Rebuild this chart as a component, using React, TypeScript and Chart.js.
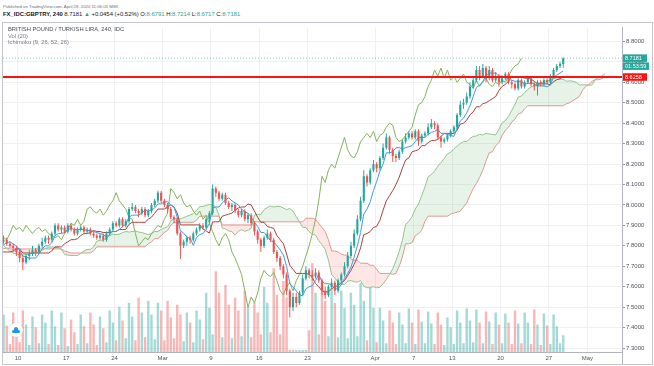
import React, { useEffect, useRef } from 'react';
import { Chart, registerables } from 'chart.js';

Chart.register(...registerables);

// Trading-day index: Feb 10 = 0. The first 42 candles (Jan 20 - Feb 6) lie left of the visible window
// and only feed the Ichimoku lines that are visible at the left edge.
const firstDay = -15;

const opens = [
  7.71, 7.72, 7.70, 7.71, 7.73, 7.75, 7.74, 7.72, 7.74, 7.76, 7.75, 7.76,
  7.77, 7.78, 7.80, 7.79, 7.81, 7.83, 7.82, 7.80, 7.84, 7.86, 7.85, 7.83, 7.84, 7.82, 7.79,
  7.77, 7.75, 7.72, 7.70, 7.71, 7.74, 7.73, 7.76, 7.78, 7.77, 7.79, 7.81, 7.80, 7.82, 7.83,
  7.81, 7.80, 7.79, 7.77, 7.74, 7.72, 7.75, 7.76, 7.78, 7.77, 7.80, 7.82, 7.84, 7.83, 7.86,
  7.90, 7.88, 7.89, 7.87, 7.90, 7.88, 7.86, 7.88, 7.89, 7.87, 7.88, 7.86, 7.85, 7.84, 7.85,
  7.83, 7.86, 7.88, 7.91, 7.90, 7.93, 7.90, 7.92, 7.98, 7.99, 7.97, 7.96, 7.98, 7.95, 7.97,
  8.00, 8.02, 8.06, 8.02, 8.00, 7.98, 7.94, 7.93, 7.86, 7.80, 7.82, 7.84, 7.83, 7.86, 7.88,
  7.90, 7.89, 7.93, 7.96, 8.08, 8.06, 8.03, 8.05, 8.01, 7.99, 8.00, 7.97, 7.95, 7.97, 7.93,
  7.95, 7.91, 7.87, 7.83, 7.80, 7.84, 7.86, 7.83, 7.77, 7.74, 7.70, 7.66, 7.58, 7.50, 7.55,
  7.52, 7.57, 7.64, 7.68, 7.66, 7.65, 7.67, 7.63, 7.58, 7.56, 7.60, 7.62, 7.58, 7.63, 7.66,
  7.70, 7.75, 7.80, 7.86, 7.93, 8.02, 8.14, 8.11, 8.17, 8.20, 8.18, 8.23, 8.28, 8.33, 8.27,
  8.24, 8.23, 8.26, 8.31, 8.33, 8.35, 8.33, 8.36, 8.31, 8.34, 8.35, 8.38, 8.40, 8.39, 8.33,
  8.31, 8.32, 8.34, 8.36, 8.38, 8.44, 8.49, 8.50, 8.53, 8.58, 8.61, 8.66, 8.63, 8.67, 8.62,
  8.66, 8.61, 8.63, 8.60, 8.62, 8.64, 8.60, 8.59, 8.57, 8.61, 8.58, 8.60, 8.62, 8.59, 8.58,
  8.60, 8.59, 8.61, 8.60, 8.63, 8.66, 8.68, 8.69,
];

const highs = [
  7.73, 7.73, 7.72, 7.74, 7.76, 7.76, 7.75, 7.75, 7.77, 7.77, 7.77, 7.78,
  7.79, 7.81, 7.81, 7.82, 7.85, 7.84, 7.83, 7.85, 7.88, 7.87, 7.86, 7.85, 7.85, 7.83, 7.80,
  7.78, 7.76, 7.73, 7.72, 7.75, 7.75, 7.77, 7.79, 7.79, 7.80, 7.82, 7.82, 7.83, 7.85, 7.84,
  7.82, 7.81, 7.80, 7.78, 7.75, 7.76, 7.78, 7.80, 7.79, 7.81, 7.84, 7.85, 7.85, 7.87, 7.91,
  7.91, 7.90, 7.90, 7.91, 7.91, 7.89, 7.89, 7.90, 7.90, 7.89, 7.89, 7.87, 7.86, 7.86, 7.86,
  7.87, 7.89, 7.92, 7.92, 7.94, 7.94, 7.93, 7.99, 8.01, 8.00, 7.98, 7.99, 7.99, 7.98, 8.01,
  8.03, 8.07, 8.07, 8.03, 8.01, 7.99, 7.95, 7.94, 7.87, 7.83, 7.85, 7.85, 7.87, 7.89, 7.91,
  7.91, 7.94, 7.97, 8.10, 8.09, 8.07, 8.06, 8.06, 8.02, 8.01, 8.01, 7.98, 7.98, 7.98, 7.96,
  7.96, 7.92, 7.88, 7.84, 7.85, 7.88, 7.87, 7.84, 7.78, 7.75, 7.71, 7.67, 7.59, 7.57, 7.57,
  7.58, 7.66, 7.70, 7.69, 7.68, 7.69, 7.68, 7.64, 7.60, 7.61, 7.64, 7.63, 7.64, 7.67, 7.72,
  7.77, 7.82, 7.88, 7.95, 8.04, 8.17, 8.15, 8.18, 8.22, 8.21, 8.24, 8.30, 8.35, 8.34, 8.28,
  8.25, 8.27, 8.32, 8.35, 8.36, 8.36, 8.37, 8.37, 8.35, 8.36, 8.40, 8.42, 8.41, 8.40, 8.34,
  8.33, 8.35, 8.37, 8.39, 8.45, 8.51, 8.52, 8.55, 8.60, 8.63, 8.68, 8.68, 8.69, 8.68, 8.68,
  8.67, 8.65, 8.64, 8.63, 8.65, 8.65, 8.61, 8.60, 8.62, 8.62, 8.61, 8.63, 8.63, 8.60, 8.61,
  8.61, 8.62, 8.62, 8.64, 8.67, 8.69, 8.70, 8.7214,
];

const lows = [
  7.70, 7.69, 7.69, 7.70, 7.72, 7.73, 7.71, 7.71, 7.73, 7.74, 7.74, 7.75,
  7.76, 7.77, 7.78, 7.78, 7.80, 7.81, 7.79, 7.79, 7.83, 7.84, 7.82, 7.82, 7.81, 7.78, 7.76,
  7.74, 7.71, 7.69, 7.69, 7.70, 7.72, 7.72, 7.75, 7.76, 7.76, 7.78, 7.79, 7.79, 7.81, 7.80,
  7.79, 7.77, 7.75, 7.72, 7.68, 7.71, 7.73, 7.75, 7.75, 7.76, 7.79, 7.81, 7.81, 7.82, 7.85,
  7.87, 7.86, 7.86, 7.86, 7.87, 7.85, 7.85, 7.87, 7.86, 7.86, 7.85, 7.84, 7.83, 7.83, 7.82,
  7.82, 7.85, 7.87, 7.89, 7.89, 7.89, 7.89, 7.91, 7.97, 7.96, 7.94, 7.95, 7.94, 7.94, 7.96,
  7.99, 8.01, 8.01, 7.99, 7.96, 7.93, 7.91, 7.85, 7.735, 7.79, 7.80, 7.81, 7.82, 7.85, 7.87,
  7.88, 7.88, 7.92, 7.95, 8.04, 8.02, 8.02, 8.00, 7.98, 7.97, 7.96, 7.94, 7.94, 7.92, 7.91,
  7.90, 7.85, 7.81, 7.77, 7.79, 7.83, 7.82, 7.76, 7.72, 7.68, 7.64, 7.56, 7.45, 7.48, 7.50,
  7.51, 7.56, 7.63, 7.64, 7.63, 7.64, 7.62, 7.56, 7.54, 7.55, 7.59, 7.56, 7.57, 7.61, 7.65,
  7.69, 7.74, 7.79, 7.85, 7.92, 8.01, 8.09, 8.10, 8.16, 8.16, 8.17, 8.22, 8.27, 8.25, 8.21,
  8.21, 8.22, 8.25, 8.30, 8.32, 8.32, 8.32, 8.29, 8.30, 8.33, 8.34, 8.37, 8.37, 8.32, 8.28,
  8.30, 8.31, 8.33, 8.35, 8.37, 8.43, 8.47, 8.49, 8.52, 8.57, 8.60, 8.61, 8.62, 8.60, 8.61,
  8.60, 8.60, 8.58, 8.59, 8.61, 8.59, 8.57, 8.56, 8.56, 8.57, 8.57, 8.59, 8.58, 8.56, 8.535,
  8.58, 8.58, 8.59, 8.59, 8.62, 8.65, 8.67, 8.6717,
];

const closes = [
  7.72, 7.70, 7.71, 7.73, 7.75, 7.74, 7.72, 7.74, 7.76, 7.75, 7.76, 7.77,
  7.78, 7.80, 7.79, 7.81, 7.83, 7.82, 7.80, 7.84, 7.86, 7.85, 7.83, 7.84, 7.82, 7.79, 7.77,
  7.75, 7.72, 7.70, 7.71, 7.74, 7.73, 7.76, 7.78, 7.77, 7.79, 7.81, 7.80, 7.82, 7.83, 7.81,
  7.80, 7.79, 7.77, 7.74, 7.72, 7.75, 7.76, 7.78, 7.77, 7.80, 7.82, 7.84, 7.83, 7.86, 7.90,
  7.88, 7.89, 7.87, 7.90, 7.88, 7.86, 7.88, 7.89, 7.87, 7.88, 7.86, 7.85, 7.84, 7.85, 7.83,
  7.86, 7.88, 7.91, 7.90, 7.93, 7.90, 7.92, 7.98, 7.99, 7.97, 7.96, 7.98, 7.95, 7.97, 8.00,
  8.02, 8.06, 8.02, 8.00, 7.98, 7.94, 7.93, 7.86, 7.80, 7.82, 7.84, 7.83, 7.86, 7.88, 7.90,
  7.89, 7.93, 7.96, 8.08, 8.06, 8.03, 8.05, 8.01, 7.99, 8.00, 7.97, 7.95, 7.97, 7.93, 7.95,
  7.91, 7.87, 7.83, 7.80, 7.84, 7.86, 7.83, 7.77, 7.74, 7.70, 7.66, 7.58, 7.50, 7.55, 7.52,
  7.57, 7.64, 7.68, 7.66, 7.65, 7.67, 7.63, 7.58, 7.56, 7.60, 7.62, 7.58, 7.63, 7.66, 7.70,
  7.75, 7.80, 7.86, 7.93, 8.02, 8.14, 8.11, 8.17, 8.20, 8.18, 8.23, 8.28, 8.33, 8.27, 8.24,
  8.23, 8.26, 8.31, 8.33, 8.35, 8.33, 8.36, 8.31, 8.34, 8.35, 8.38, 8.40, 8.39, 8.33, 8.31,
  8.32, 8.34, 8.36, 8.38, 8.44, 8.49, 8.50, 8.53, 8.58, 8.61, 8.66, 8.63, 8.67, 8.62, 8.66,
  8.61, 8.63, 8.60, 8.62, 8.64, 8.60, 8.59, 8.57, 8.61, 8.58, 8.60, 8.62, 8.59, 8.58, 8.60,
  8.59, 8.61, 8.60, 8.63, 8.66, 8.68, 8.69, 8.7181,
];

const volumes = [
  8, 37, 25, 9, 40, 26, 7, 35, 24, 8, 38, 27,
  8, 36, 24, 7, 38, 26, 9, 40, 27, 6, 35, 22, 8, 37, 25,
  10, 42, 28, 7, 36, 24, 8, 39, 26, 9, 40, 25, 8, 38, 27,
  8, 40, 22, 10, 42, 28, 7, 36, 25, 9, 38, 30, 8, 42, 26,
  7, 40, 24, 6, 33, 20, 8, 38, 26, 9, 40, 28, 7, 36, 24,
  10, 42, 30, 12, 46, 32, 14, 50, 36, 12, 55, 40, 15, 52, 38,
  13, 50, 42, 12, 52, 35, 14, 48, 38, 11, 40, 30, 10, 42, 33,
  13, 60, 45, 18, 82, 60, 15, 68, 48, 14, 55, 42, 16, 62, 46,
  15, 50, 40, 18, 66, 50, 20, 85, 58, 18, 72, 55, 2, 2, 2,
  2, 2, 2, 22, 90, 60, 18, 72, 52, 16, 65, 50, 15, 62, 45,
  14, 60, 48, 16, 70, 52, 12, 65, 45, 10, 45, 32, 9, 42, 30,
  8, 40, 28, 9, 44, 30, 8, 43, 31, 9, 41, 29, 8, 40, 28,
  7, 35, 25, 8, 42, 30, 9, 44, 32, 10, 43, 30, 9, 41, 31,
  8, 40, 28, 9, 39, 30, 8, 42, 29, 9, 40, 30, 8, 43, 28,
  7, 39, 27, 8, 38, 26, 9, 17,
];

const priceTicks = [7.3, 7.4, 7.5, 7.6, 7.7, 7.8, 7.9, 8.0, 8.1, 8.2, 8.3, 8.4, 8.5, 8.6, 8.7, 8.8];
const dayTicks = [0, 5, 10, 15, 20, 25, 30, 37, 41, 45, 50, 55, 59];
const dayLabels = ['10', '17', '24', 'Mar', '9', '16', '23', 'Apr', '7', '13', '20', '27', 'May'];

const ichimokuSettings = [9, 26, 52, 26]; // in 4h bars
const barsPerCandle = 2;

const lastPrice = 8.7181;
const levelPrice = 8.6258;
const countdown = '01:53:59';

const UP = '#26a69a';
const DOWN = '#ef5350';
const FONT = "'Liberation Sans', Arial, sans-serif";

const xMin = -1.554;
const xMax = 62.59;
const yMin = 7.2807;
const yMax = 8.8675;

export default function App() {
  const ref = useRef<HTMLCanvasElement>(null);

  useEffect(() => {
    document.body.style.margin = '0';
    const N = closes.length;
    const xOf = (j: number) => firstDay + Math.floor(j / 3) + ((j % 3) * 2 + 1) / 6;
    const [pT, pK, pB, shift] = ichimokuSettings.map((p) => Math.round(p / barsPerCandle));
    const midRange = (j: number, p: number): number | null => {
      if (j - p + 1 < 0) return null;
      let hi = -Infinity;
      let lo = Infinity;
      for (let k = j - p + 1; k <= j; k++) {
        hi = Math.max(hi, highs[k]);
        lo = Math.min(lo, lows[k]);
      }
      return (hi + lo) / 2;
    };

    const tenkan: { x: number; y: number }[] = [];
    const kijun: { x: number; y: number }[] = [];
    const spanA: { x: number; y: number }[] = [];
    const spanB: { x: number; y: number }[] = [];
    const chikou: { x: number; y: number }[] = [];
    for (let j = 0; j < N; j++) {
      const t = midRange(j, pT);
      const k = midRange(j, pK);
      const b = midRange(j, pB);
      if (t !== null) tenkan.push({ x: xOf(j), y: t });
      if (k !== null) kijun.push({ x: xOf(j), y: k });
      if (t !== null && k !== null && b !== null) {
        spanA.push({ x: xOf(j + shift), y: (t + k) / 2 });
        spanB.push({ x: xOf(j + shift), y: b });
      }
      chikou.push({ x: xOf(j - shift), y: closes[j] });
    }

    const isUp = (j: number) => closes[j] >= opens[j];
    const candleColors = closes.map((_, j) => (isUp(j) ? UP : DOWN));
    const volColors = closes.map((_, j) => (isUp(j) ? 'rgba(38,166,154,0.42)' : 'rgba(239,83,80,0.42)'));

    const lineDs = (data: any[], color: string, order: number, extra: any = {}) => ({
      type: 'line' as const,
      data,
      borderColor: color,
      borderWidth: 1,
      pointRadius: 0,
      tension: 0,
      fill: false,
      order,
      clip: 0,
      ...extra,
    });

    const priceBoxes = {
      id: 'priceBoxes',
      afterDraw(chart: any) {
        const { ctx, chartArea, scales } = chart;
        const ys = scales.y;
        ctx.save();
        ctx.strokeStyle = '#b2b5be';
        ctx.lineWidth = 1;
        ctx.beginPath();
        ctx.moveTo(chartArea.right + 0.5, chartArea.bottom);
        ctx.lineTo(chartArea.right + 0.5, chart.height);
        ctx.stroke();
        const box = (cy: number, text: string, bg: string, w: number) => {
          const h = 7.5;
          ctx.fillStyle = bg;
          ctx.fillRect(chartArea.right + 1, cy - h / 2, w, h);
          ctx.fillStyle = '#ffffff';
          ctx.font = `5.5px ${FONT}`;
          ctx.textBaseline = 'middle';
          ctx.textAlign = 'left';
          ctx.fillText(text, chartArea.right + 3, cy + 0.3);
        };
        const yl = ys.getPixelForValue(lastPrice);
        box(yl, lastPrice.toFixed(4), UP, 24);
        box(yl + 8, countdown, UP, 26);
        box(ys.getPixelForValue(levelPrice), levelPrice.toFixed(4), '#ff1111', 24);
        ctx.restore();
      },
    };

    const chart = new Chart(ref.current as HTMLCanvasElement, {
      type: 'bar',
      data: {
        datasets: [
          {
            type: 'bar',
            yAxisID: 'yVol',
            data: volumes.map((v, j) => ({ x: xOf(j), y: v })),
            backgroundColor: volColors,
            borderWidth: 0,
            grouped: false,
            categoryPercentage: 1,
            barPercentage: 0.75,
            order: 20,
            clip: 0,
          } as any,
          lineDs(spanB, '#e39a94', 15),
          lineDs(spanA, '#93c48f', 14, {
            fill: { target: 1, above: 'rgba(67,160,71,0.13)', below: 'rgba(244,67,54,0.13)' },
          }),
          lineDs(chikou, '#86b35a', 10),
          lineDs(kijun, '#a8423d', 9),
          lineDs(tenkan, '#3d9be9', 8),
          {
            type: 'bar',
            data: closes.map((_, j) => ({ x: xOf(j), y: [lows[j], highs[j]] })),
            backgroundColor: candleColors,
            borderWidth: 0,
            grouped: false,
            categoryPercentage: 1,
            barPercentage: 0.3,
            order: 5,
            clip: 0,
          } as any,
          {
            type: 'bar',
            data: closes.map((c, j) => ({ x: xOf(j), y: [opens[j], c] })),
            backgroundColor: candleColors,
            borderWidth: 0,
            grouped: false,
            categoryPercentage: 1,
            barPercentage: 0.65,
            minBarLength: 0.8,
            order: 4,
            clip: 0,
          } as any,
          lineDs(
            [
              { x: xMin, y: lastPrice },
              { x: xMax, y: lastPrice },
            ],
            'rgba(38,166,154,0.55)',
            2,
            { borderDash: [1, 2] }
          ),
          lineDs(
            [
              { x: xMin, y: levelPrice },
              { x: xMax, y: levelPrice },
            ],
            '#ff1111',
            1,
            { borderWidth: 2 }
          ),
        ],
      },
      options: {
        animation: false,
        responsive: false,
        events: [],
        layout: { padding: 0 },
        plugins: {
          legend: { display: false },
          tooltip: { enabled: false },
        },
        scales: {
          x: {
            type: 'linear',
            min: xMin,
            max: xMax,
            offset: false,
            grid: { color: '#eef0f3', drawTicks: false, offset: false },
            border: { display: true, color: '#b2b5be' },
            ticks: {
              autoSkip: false,
              maxRotation: 0,
              padding: 3,
              color: '#50535e',
              font: { size: 6, family: FONT },
              callback: (v: any) => {
                const i = dayTicks.indexOf(Number(v));
                return i >= 0 ? dayLabels[i] : '';
              },
            },
            afterBuildTicks: (s: any) => {
              s.ticks = dayTicks.map((v) => ({ value: v }));
            },
            afterFit: (s: any) => {
              s.height = 12;
            },
          },
          y: {
            type: 'linear',
            position: 'right',
            min: yMin,
            max: yMax,
            grid: { color: '#eef0f3', tickLength: 3, tickColor: '#9598a1' },
            border: { display: true, color: '#b2b5be' },
            ticks: {
              padding: 1,
              color: '#50535e',
              font: { size: 6, family: FONT },
              callback: (v: any) => Number(v).toFixed(4),
            },
            afterBuildTicks: (s: any) => {
              s.ticks = priceTicks.map((v) => ({ value: v }));
            },
            afterFit: (s: any) => {
              s.width = 29;
            },
          },
          yVol: { type: 'linear', display: false, min: 0, max: 329 },
        },
      } as any,
      plugins: [priceBoxes],
    });
    return () => chart.destroy();
  }, []);

  const teal = { color: UP };
  return (
    <div style={{ position: 'relative', width: 654, height: 366, background: '#fff', fontFamily: FONT, overflow: 'hidden' }}>
      <div style={{ position: 'absolute', left: 3, top: 4.6, fontSize: 4.3, lineHeight: 1, color: '#6a6d78', whiteSpace: 'nowrap' }}>
        Published on TradingView.com, April 28, 2020 11:06:03 MSK
      </div>
      <div style={{ position: 'absolute', left: 3, top: 12, fontSize: 5.9, lineHeight: 1, color: '#131722', whiteSpace: 'nowrap' }}>
        <span style={{ fontWeight: 700 }}>FX_IDC:GBPTRY, 240</span> 8.7181 <span style={teal}>▲</span> +0.0454 (+0.52%) O:
        <span style={teal}>8.6791</span> H:<span style={teal}>8.7214</span> L:<span style={teal}>8.6717</span> C:
        <span style={teal}>8.7181</span>
      </div>
      <div style={{ position: 'absolute', left: 2, top: 22, width: 651, height: 343, boxSizing: 'border-box', border: '1px solid #c3c6cd' }} />
      <canvas ref={ref} width={648} height={341} style={{ position: 'absolute', left: 3, top: 23, width: 648, height: 341 }} />
      <div style={{ position: 'absolute', left: 8, top: 27, fontSize: 5.8, lineHeight: 1, color: '#4a4d57', whiteSpace: 'nowrap' }}>
        BRITISH POUND / TURKISH LIRA, 240, IDC
      </div>
      <div style={{ position: 'absolute', left: 8, top: 33.6, fontSize: 5.8, lineHeight: 1, color: '#787b86', whiteSpace: 'nowrap' }}>
        Vol (20)
      </div>
      <div style={{ position: 'absolute', left: 8, top: 40.2, fontSize: 5.8, lineHeight: 1, color: '#787b86', whiteSpace: 'nowrap' }}>
        Ichimoku (9, 26, 52, 26)
      </div>
      <div style={{ position: 'absolute', left: 9, top: 323, width: 14, height: 14, borderRadius: 7, background: '#fff', boxShadow: '0 0 1px rgba(0,0,0,0.25)' }}>
        <div style={{ position: 'absolute', left: 3, top: 6.5, width: 8, height: 3.5, borderRadius: 1.8, background: '#2196f3' }} />
        <div style={{ position: 'absolute', left: 4.5, top: 4, width: 4.5, height: 4.5, borderRadius: 2.3, background: '#2196f3' }} />
      </div>
    </div>
  );
}
